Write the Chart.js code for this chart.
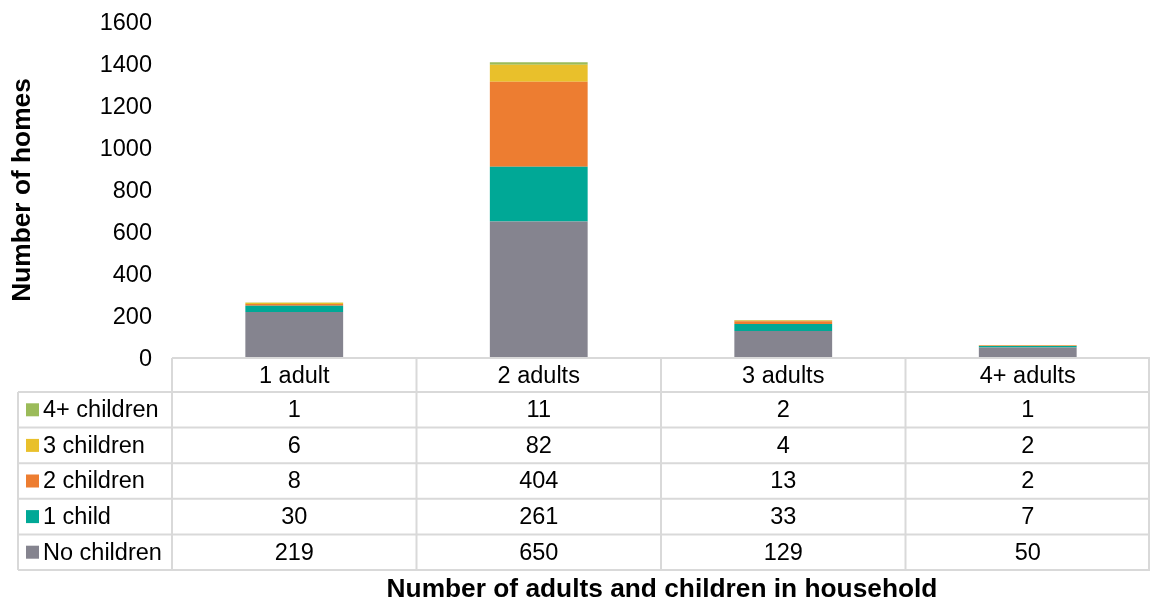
<!DOCTYPE html>
<html>
<head>
<meta charset="utf-8">
<script src="https://cdn.jsdelivr.net/npm/chart.js@4/dist/chart.umd.min.js"></script>
<style>
  html, body { margin: 0; padding: 0; background: #fff; }
  #wrap { width: 1150px; height: 602px; position: relative; }
</style>
</head>
<body>
<div id="wrap"><canvas id="chart"></canvas></div>
<script>
// Household composition: homes by number of adults, split by number of children
const categories = ['1 adult', '2 adults', '3 adults', '4+ adults'];
const noChildren = [219, 650, 129, 50];
const oneChild = [30, 261, 33, 7];
const twoChildren = [8, 404, 13, 2];
const threeChildren = [6, 82, 4, 2];
const fourPlusChildren = [1, 11, 2, 1];

const seriesNames = ['No children', '1 child', '2 children', '3 children', '4+ children'];
const seriesValues = [noChildren, oneChild, twoChildren, threeChildren, fourPlusChildren];
const seriesColors = ['#85848F', '#00A896', '#ED7D31', '#E9C02B', '#9BBB59'];

const yMax = 1600;
const yStep = 200;

const yTitle = 'Number of homes';
const xTitle = 'Number of adults and children in household';

const FONT = '"Liberation Sans", Arial, sans-serif';
const TEXT_SIZE = 23.5;

// Data table under the plot: header row with categories, one row per series
const dataTable = {
  id: 'dataTable',
  afterDraw(chart) {
    const { ctx, chartArea, scales } = chart;
    const x = scales.x;
    const n = categories.length;
    const colW = (chartArea.right - chartArea.left) / n;
    const tableTop = chartArea.bottom;
    const headerH = 34;
    const rowH = 35.6;
    const legendLeft = 18;
    const rows = seriesNames.length;
    const tableBottom = tableTop + headerH + rows * rowH;

    ctx.save();
    ctx.strokeStyle = '#D9D9D9';
    ctx.lineWidth = 2;
    ctx.beginPath();
    // top border of the header row
    ctx.moveTo(chartArea.left, tableTop);
    ctx.lineTo(chartArea.right, tableTop);
    // row borders
    for (let r = 0; r <= rows; r++) {
      const y = tableTop + headerH + r * rowH;
      ctx.moveTo(legendLeft, y);
      ctx.lineTo(chartArea.right, y);
    }
    // outer left edge of legend column
    ctx.moveTo(legendLeft, tableTop + headerH);
    ctx.lineTo(legendLeft, tableBottom);
    // column separators
    for (let i = 0; i <= n; i++) {
      const cx = i < n ? x.getPixelForValue(i) - colW / 2 : x.getPixelForValue(n - 1) + colW / 2;
      ctx.moveTo(Math.min(cx, chartArea.right - 1), tableTop);
      ctx.lineTo(Math.min(cx, chartArea.right - 1), tableBottom);
    }
    ctx.stroke();

    ctx.fillStyle = '#000';
    ctx.font = TEXT_SIZE + 'px ' + FONT;
    ctx.textBaseline = 'middle';
    ctx.textAlign = 'center';
    // header labels
    categories.forEach((c, i) => {
      ctx.fillText(c, x.getPixelForValue(i), tableTop + headerH / 2 + 2);
    });
    // series rows, top row is the top of the stack
    for (let r = 0; r < rows; r++) {
      const s = rows - 1 - r;
      const cy = tableTop + headerH + r * rowH + rowH / 2 + 1;
      seriesValues[s].forEach((v, i) => {
        ctx.textAlign = 'center';
        ctx.fillText(String(v), x.getPixelForValue(i), cy);
      });
      ctx.fillStyle = seriesColors[s];
      ctx.fillRect(legendLeft + 8, cy - 7.5, 13, 13);
      ctx.fillStyle = '#000';
      ctx.textAlign = 'left';
      ctx.fillText(seriesNames[s], legendLeft + 25, cy);
    }

    // horizontal axis title
    ctx.font = 'bold 26.3px ' + FONT;
    ctx.textAlign = 'center';
    ctx.fillText(xTitle, (chartArea.left + chartArea.right) / 2 + 1, 590);
    ctx.restore();
  }
};

new Chart(document.getElementById('chart'), {
  type: 'bar',
  data: {
    labels: categories,
    datasets: seriesNames.map((name, i) => ({
      label: name,
      data: seriesValues[i],
      backgroundColor: seriesColors[i],
      borderWidth: 0,
      barPercentage: 0.4,
      categoryPercentage: 1.0
    }))
  },
  options: {
    responsive: true,
    maintainAspectRatio: false,
    animation: false,
    layout: { padding: { top: 22, right: 0, bottom: 244, left: 0 } },
    plugins: {
      legend: { display: false },
      tooltip: { enabled: false }
    },
    scales: {
      x: {
        stacked: true,
        display: false
      },
      y: {
        stacked: true,
        min: 0,
        max: yMax,
        border: { display: false },
        grid: { display: false, drawTicks: true, tickLength: 20 },
        afterFit(scale) { scale.width = 172; },
        ticks: {
          stepSize: yStep,
          padding: 0,
          labelOffset: 1.5,
          color: '#000',
          font: { family: FONT, size: TEXT_SIZE },
          callback: v => String(v)
        },
        title: {
          display: true,
          text: yTitle,
          color: '#000',
          padding: { top: 7, bottom: 0 },
          font: { family: FONT, size: 26.3, weight: 'bold' }
        }
      }
    }
  },
  plugins: [dataTable]
});
</script>
</body>
</html>
